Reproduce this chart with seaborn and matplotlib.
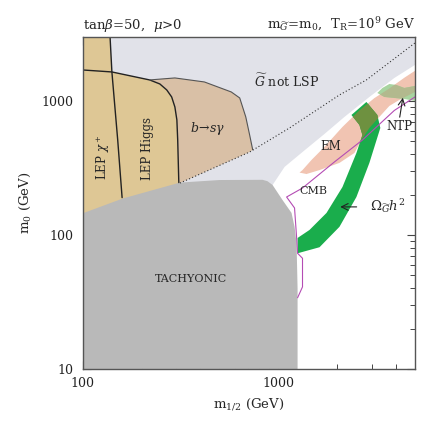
import numpy as np
import matplotlib
matplotlib.use("Agg")
import matplotlib.pyplot as plt
import seaborn as sns
from matplotlib.ticker import LogLocator, NullFormatter

# Region boundaries, (m_1/2, m_0) in GeV
notlsp_x = [100, 5000, 5000, 3922, 2923, 2179, 1722, 1330, 1077, 935, 100]
notlsp_y = [3000, 3000, 1857, 1485, 1071, 760, 567, 416, 322, 236, 100]

lep_x = [100, 138, 141, 220, 248, 269, 285, 296, 303, 306, 310, 310, 100]
lep_y = [3000, 3000, 1646, 1435, 1339, 1208, 1071, 902, 722, 511, 244, 150, 100]

bsg_x = [220, 248, 269, 285, 296, 303, 306, 310, 314, 714, 740, 714, 682, 635, 575, 419, 296]
bsg_y = [1435, 1339, 1208, 1071, 902, 722, 511, 244, 244, 416, 432, 556, 760, 1053, 1167, 1386, 1485]
bsg_top_x = [220, 296, 419, 575, 635, 682, 714, 740]
bsg_top_y = [1435, 1485, 1386, 1167, 1053, 760, 556, 432]

tach_x = [100, 100, 160, 314, 500, 830, 880, 935, 1052, 1169, 1211, 1240, 1255, 1255]
tach_y = [10, 145, 187, 246, 257, 258, 252, 236, 182, 146, 115, 87, 40, 10]

chargino_x = [138, 141, 151, 159]
chargino_y = [3000, 1646, 511, 190]

higgs_x = [100, 141, 220, 248, 269, 285, 296, 303, 306, 310]
higgs_y = [1703, 1646, 1435, 1339, 1208, 1071, 902, 722, 511, 246]

mchi_x = [314, 714, 1142, 2055, 2822, 5000]
mchi_y = [244, 416, 629, 1109, 1435, 2710]

em_x = [1330, 1479, 1722, 2129, 2599, 3099, 3698, 4410, 5000, 5000, 4156, 3698, 3287,
        2923, 2661, 2450, 2055, 1625, 1394, 1284]
em_y = [305, 363, 454, 640, 850, 1050, 1240, 1490, 1680, 1167, 1017, 918, 760,
        629, 511, 409, 345, 305, 285, 292]

omega_x = [2366, 2599, 2692, 2509, 2129, 1764, 1444, 1255, 1255, 1625, 2055, 2509,
           2923, 3325, 3210, 2822]
omega_y = [786, 662, 557, 409, 228, 146, 109, 95, 73, 81, 115, 192, 345, 629, 786, 983]

ntp_x = [3210, 3406, 3698, 4014, 4410, 5000, 5000, 4410, 3922, 3486]
ntp_y = [1147, 1250, 1339, 1316, 1250, 1294, 1000, 1035, 1053, 1071]

cmb_x = [5000, 3922, 2692, 1938, 1330, 1103, 1211, 1240, 1255, 1330, 1330, 1255]
cmb_y = [1071, 850, 511, 351, 224, 192, 159, 97, 73, 67, 41, 34]

sns.set_theme(style="ticks")
plt.rcParams["font.family"] = ["DejaVu Serif"]
plt.rcParams["mathtext.fontset"] = "dejavuserif"

fig = plt.figure(figsize=(4.36, 4.36), dpi=100)
ax = fig.add_axes([0.1897, 0.1537, 0.7621, 0.7614])
ax.set_xscale("log")
ax.set_yscale("log")
ax.set_facecolor("white")

ax.fill(notlsp_x, notlsp_y, color="#e1e2e9", lw=0, zorder=1)
ax.fill(lep_x, lep_y, color="#dec795", lw=0, zorder=2)
ax.fill(bsg_x, bsg_y, color="#d9c0a6", lw=0, zorder=2)
ax.fill(tach_x, tach_y, color="#b9b9b9", lw=0, zorder=3)

em_patch = ax.fill(em_x, em_y, color="#f1c4b2", lw=0, zorder=4)[0]
ax.fill(omega_x, omega_y, color="#1aad4c", lw=0, zorder=5)
olive = ax.fill(omega_x, omega_y, color="#6e9140", lw=0, zorder=6)[0]
olive.set_clip_path(em_patch)
ax.fill(ntp_x, ntp_y, color="#a8d4a0", lw=0, zorder=5)
ntp_over = ax.fill(ntp_x, ntp_y, color="#b2b98e", lw=0, zorder=6)[0]
ntp_over.set_clip_path(em_patch)

sns.lineplot(x=chargino_x, y=chargino_y, sort=False, estimator=None, color="#222222",
             lw=1.0, ax=ax, zorder=7)
sns.lineplot(x=higgs_x, y=higgs_y, sort=False, estimator=None, color="#222222",
             lw=1.0, ax=ax, zorder=7)
sns.lineplot(x=bsg_top_x, y=bsg_top_y, sort=False, estimator=None, color="#555555",
             lw=0.8, ax=ax, zorder=7)
sns.lineplot(x=mchi_x, y=mchi_y, sort=False, estimator=None, color="#333333",
             lw=0.8, linestyle=(0, (1, 2)), ax=ax, zorder=7)
sns.lineplot(x=cmb_x, y=cmb_y, sort=False, estimator=None, color="#b44cb4",
             lw=0.8, ax=ax, zorder=8)

ax.set_xlim(100, 5000)
ax.set_ylim(10, 3000)

# labels inside the plane
ax.text(1102, 1410, r"$\widetilde{G}$ not LSP", fontsize=9, ha="center", va="center", zorder=9)
ax.text(1849, 454, "EM", fontsize=8.5, ha="center", va="center", zorder=9)
ax.text(1514, 213, "CMB", fontsize=8, ha="center", va="center", zorder=9)
ax.text(4156, 640, "NTP", fontsize=8.5, ha="center", va="center", zorder=9)
ax.text(3612, 165, r"$\Omega_{\widetilde{G}}h^2$", fontsize=9.5, ha="center", va="center", zorder=9)
ax.text(357, 47, "TACHYONIC", fontsize=8, ha="center", va="center", zorder=9)
ax.text(436, 618, r"$b\!\rightarrow\! s\gamma$", fontsize=9, ha="center", va="center", zorder=9)
ax.text(127, 382, r"LEP $\chi^+$", fontsize=8.5, rotation=90, ha="center", va="center", zorder=9)
ax.text(215, 439, "LEP Higgs", fontsize=8.5, rotation=90, ha="center", va="center", zorder=9)

ax.annotate("", xy=(4356, 1109), xytext=(4156, 722),
            arrowprops=dict(arrowstyle="->", color="#222222", lw=0.8), zorder=9)
ax.annotate("", xy=(2007, 162), xytext=(2599, 162),
            arrowprops=dict(arrowstyle="->", color="#222222", lw=0.8), zorder=9)

ax.set_title(r"tan$\beta$=50,  $\mu$>0", loc="left", fontsize=9.5, pad=6)
ax.set_title(r"m$_{\widetilde{G}}$=m$_0$,  T$_{\rm R}$=10$^9$ GeV", loc="right", fontsize=9.5, pad=6)
ax.set_xlabel(r"m$_{1/2}$ (GeV)", fontsize=9.5, labelpad=5)
ax.set_ylabel(r"m$_0$ (GeV)", fontsize=9.5, labelpad=6)

ax.set_xticks([100, 1000])
ax.set_xticklabels(["100", "1000"])
ax.set_yticks([10, 100, 1000])
ax.set_yticklabels(["10", "100", "1000"])
ax.xaxis.set_minor_locator(LogLocator(base=10, subs=np.arange(2, 10)))
ax.yaxis.set_minor_locator(LogLocator(base=10, subs=np.arange(2, 10)))
ax.xaxis.set_minor_formatter(NullFormatter())
ax.yaxis.set_minor_formatter(NullFormatter())
ax.tick_params(which="both", direction="in", top=True, right=True, colors="#444444",
               labelcolor="#222222", labelsize=9)
ax.tick_params(which="major", length=6, width=0.8)
ax.tick_params(which="minor", length=3.5, width=0.7)
ax.tick_params(axis="x", which="major", pad=6)
ax.tick_params(axis="y", which="major", pad=7)
for s in ax.spines.values():
    s.set_color("#555555")
    s.set_linewidth(1.0)
    s.set_zorder(10)

fig.savefig("out.png", dpi=100)
